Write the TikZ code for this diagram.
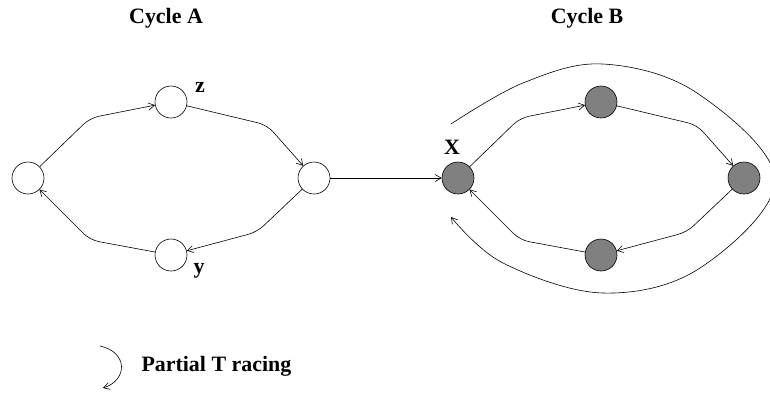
\documentclass[tikz,border=0pt]{standalone}
\usepackage{fontspec}
\setmainfont{Liberation Serif}
\usetikzlibrary{arrows.meta}

\begin{document}
\begin{tikzpicture}[
    x=1bp, y=-1bp,
    state/.style={draw, circle, minimum size=32bp, inner sep=0pt, line width=0.6bp},
    grey/.style={state, fill=black!50},
    edge/.style={line width=0.6bp, -{Straight Barb[length=6bp,width=7bp]}},
    bent/.style={edge, rounded corners=9bp},
    lbl/.style={font=\fontsize{22}{26}\selectfont\bfseries},
  ]
  \useasboundingbox (0,0) rectangle (770,392);

  %% ---- Titles ----
  \node[lbl] (titleA) at (166,18) {Cycle A};
  \node[lbl] (titleB) at (587,18) {Cycle B};

  %% ---- Cycle A (open nodes) ----
  \node[state] (a1) at (28,178) {};
  \node[state] (a2) at (171,102) {};
  \node[state] (a3) at (314,178) {};
  \node[state] (a4) at (171,255) {};
  \node[lbl] (z) at (200,87) {z};
  \node[lbl] (y) at (199,271) {y};

  \draw[bent] (a1) -- (90,118) -- (a2);
  \draw[bent] (a2) -- (267,125) -- (a3);
  \draw[bent] (a3) -- (257,232) -- (a4);
  \draw[bent] (a4) -- (90,240) -- (a1);

  %% ---- Cycle B (filled nodes) ----
  \node[grey] (b1) at (458,178) {};
  \node[grey] (b2) at (601,102) {};
  \node[grey] (b3) at (744,178) {};
  \node[grey] (b4) at (601,255) {};
  \node[lbl] (X) at (452,147) {X};

  \draw[bent] (b1) -- (520,118) -- (b2);
  \draw[bent] (b2) -- (697,125) -- (b3);
  \draw[bent] (b3) -- (687,232) -- (b4);
  \draw[bent] (b4) -- (520,240) -- (b1);

  % link between the cycles
  \draw[edge] (a3) -- (b1);

  % tracing round cycle B
  \coordinate (t0) at (451,124);
  \coordinate (t1) at (451,217);
  \draw[edge] plot[smooth, tension=0.6] coordinates
    {(t0) (523,83) (603,64) (697,93) (775,180) (700,268) (603,293) (503,263) (t1)};

  %% ---- Legend ----
  \coordinate (l0) at (100,346);
  \coordinate (l1) at (103,388);
  \draw[edge] (l0) .. controls (128,352) and (128,380) .. (l1);
  \node[lbl, anchor=west] (legend) at (138,366) {Partial T racing};

\end{tikzpicture}
\end{document}
